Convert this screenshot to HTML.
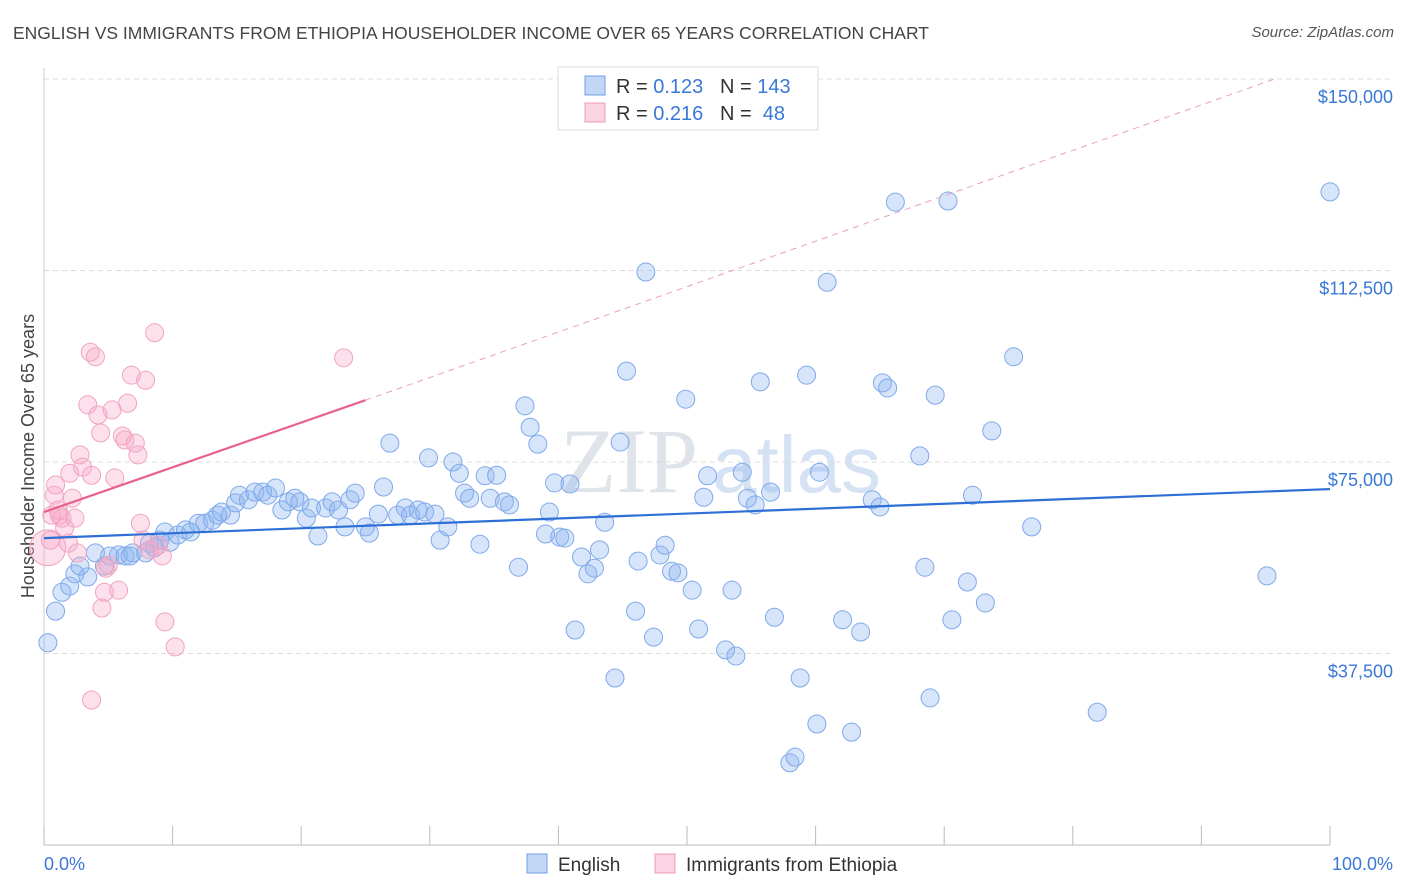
<!DOCTYPE html>
<html><head><meta charset="utf-8">
<style>
body{margin:0;background:#fff;font-family:"Liberation Sans",sans-serif;}
#wrap{position:relative;width:1406px;height:892px;overflow:hidden;}
.title{position:absolute;left:13px;top:23px;font-size:17.5px;color:#444;letter-spacing:0px;}
.source{position:absolute;right:12px;top:24px;font-size:15px;color:#555;font-style:italic;}
</style></head>
<body>
<div id="wrap">
<div class="title">ENGLISH VS IMMIGRANTS FROM ETHIOPIA HOUSEHOLDER INCOME OVER 65 YEARS CORRELATION CHART</div>
<div class="source">Source: ZipAtlas.com</div>
<svg id="chart" width="1406" height="892" style="position:absolute;left:0;top:0"></svg>
</div>
<script>
const englishX=[0.3,0.9,1.4,2.0,2.4,3.4,2.8,4.0,4.7,5.1,5.8,6.3,6.7,6.9,7.9,8.2,8.6,9.0,9.4,9.8,10.4,11.0,11.4,12.0,12.5,13.1,13.5,13.8,14.5,14.9,15.2,15.9,16.4,17.0,17.4,18.0,18.5,19.0,19.5,19.9,20.4,20.8,21.3,21.9,22.4,22.9,23.4,23.8,24.2,25.0,25.3,26.0,26.4,26.9,27.5,28.1,28.5,29.1,29.6,29.9,30.4,30.8,31.4,31.8,32.3,32.7,33.1,33.9,34.3,34.7,35.2,35.8,36.2,36.9,37.4,37.8,38.4,39.0,39.3,39.7,40.1,40.5,40.9,41.3,41.8,42.3,42.8,43.2,43.6,44.4,44.8,45.3,46.0,46.2,46.8,47.4,47.9,48.3,48.8,49.3,49.9,50.4,50.9,51.3,51.6,53.0,53.5,53.8,54.3,54.7,55.3,55.7,56.5,56.8,58.0,58.4,58.8,59.3,60.1,60.3,60.9,62.1,62.8,63.5,64.4,65.0,65.2,65.6,66.2,68.1,68.5,68.9,69.3,70.3,70.6,71.8,72.2,73.2,73.7,75.4,76.8,81.9,95.1,100];
const englishY=[39.6,45.8,49.5,50.7,53.1,52.5,54.6,57.2,54.6,56.6,56.8,56.6,56.6,57.2,57.2,59.1,58.2,59.7,61.3,59.3,60.7,61.7,61.3,63.0,63.0,63.6,64.6,65.2,64.6,67.0,68.5,67.6,69.1,69.1,68.5,69.9,65.6,67.2,67.9,67.2,64.0,66.0,60.5,66.0,67.2,65.6,62.3,67.6,68.9,62.3,61.1,64.8,70.1,78.7,64.6,66.0,64.6,65.6,65.2,75.8,64.8,59.7,62.3,75.0,72.8,68.9,67.9,58.9,72.3,67.9,72.4,67.2,66.6,54.4,86.0,81.8,78.5,60.9,65.2,70.9,60.3,60.1,70.7,42.1,56.4,53.1,54.2,57.8,63.2,32.7,78.9,92.8,45.8,55.6,112.2,40.7,56.8,58.7,53.6,53.3,87.3,49.9,42.3,68.1,72.3,38.2,49.9,37.0,73.0,67.9,66.6,90.7,69.1,44.6,16.1,17.2,32.7,92.0,23.7,73.0,110.2,44.1,22.1,41.7,67.6,66.2,90.5,89.5,125.9,76.2,54.4,28.8,88.1,126.1,44.1,51.5,68.5,47.4,81.1,95.6,62.3,26.0,52.7,127.9];
const ethX=[0.3,0.5,0.6,0.8,0.9,1.2,1.4,1.6,1.9,2.0,2.2,2.4,2.6,2.8,3.0,3.4,3.6,3.7,4.0,4.2,4.4,4.5,4.7,4.8,5.0,5.3,5.5,5.8,6.1,6.3,6.5,6.8,7.1,7.3,7.5,7.7,7.9,8.2,8.6,8.9,9.2,9.4,10.2,3.7,23.3,1.1];
const ethY=[58.2,59.7,64.6,68.5,70.5,64.6,64.0,62.1,59.1,72.8,67.9,64.0,57.2,76.4,74.0,86.2,96.5,72.4,95.6,84.2,80.7,46.4,49.5,54.2,54.8,85.2,71.9,49.9,80.1,79.3,86.5,92.0,78.7,76.4,63.0,59.7,91.0,57.8,100.3,58.7,56.6,43.7,38.8,28.4,95.4,65.6];
const yTicks=[37.5,75,112.5,150];
const yTickLabels=["$37,500","$75,000","$112,500","$150,000"];
const blueTrend=[[0,60.1],[100,69.7]];
const pinkTrend=[[0,65.2],[25,87.1]];
const pinkDash=[[25,87.1],[95.7,150]];

const L=44,R=1330,T=79,B=845;
const sx=v=>L+(R-L)*v/100;
const sy=v=>B-(B-T)*v/150;
const svg=document.getElementById('chart');
const NS='http://www.w3.org/2000/svg';
function mk(tag,attrs){const e=document.createElementNS(NS,tag);for(const k in attrs)e.setAttribute(k,attrs[k]);svg.appendChild(e);return e;}

let wm=mk('text',{x:560,y:492,'font-size':92,'font-family':'Liberation Serif, serif',fill:'#dfe3ea'});
wm.textContent='ZIP';


let wm2=mk('text',{x:712,y:492,'font-size':80,'font-family':'Liberation Sans, sans-serif',fill:'#d4e2f4'});
wm2.textContent='atlas';



yTicks.forEach((t,i)=>{
  const g=mk('line',{x1:L,x2:1393,y1:sy(t),y2:sy(t),stroke:'#dcdcdc','stroke-dasharray':'5,4','stroke-width':1});
  
  
  const tx=mk('text',{x:1393,y:sy(t)+24,'text-anchor':'end','font-size':18,fill:'#3a78d8'});
  tx.textContent=yTickLabels[i];
  
  
});
let ax=mk('line',{x1:L,x2:R,y1:B,y2:B,stroke:'#bbb'});


let ay=mk('line',{x1:L,x2:L,y1:68,y2:B,stroke:'#ccc'});


for(let i=0;i<=10;i++){
  const tk=mk('line',{x1:sx(i*10),x2:sx(i*10),y1:826,y2:B,stroke:'#bbb'});
  
  
}
let xl=mk('text',{x:44,y:870,'font-size':18,fill:'#3a78d8'});xl.textContent='0.0%';


let xr=mk('text',{x:1393,y:870,'font-size':18,fill:'#3a78d8','text-anchor':'end'});xr.textContent='100.0%';


let yt=mk('text',{x:34,y:456,'font-size':18,fill:'#444','text-anchor':'middle',transform:'rotate(-90 34 456)'});
yt.textContent='Householder Income Over 65 years';



englishX.forEach((x,i)=>{
  const c=mk('circle',{cx:sx(x),cy:sy(englishY[i]),r:9,fill:'rgba(140,180,240,0.35)',stroke:'#7fa9ea','stroke-width':1});
  
  
});
ethX.forEach((x,i)=>{
  const c=mk('circle',{cx:sx(x),cy:sy(ethY[i]),r:i===0?18:9,fill:'rgba(245,170,200,0.35)',stroke:'#f2a3c0','stroke-width':1});
  
  
});
let bt=mk('line',{x1:sx(blueTrend[0][0]),y1:sy(blueTrend[0][1]),x2:sx(blueTrend[1][0]),y2:sy(blueTrend[1][1]),stroke:'#2e6fd6','stroke-width':2.2});


let pt=mk('line',{x1:sx(pinkTrend[0][0]),y1:sy(pinkTrend[0][1]),x2:sx(pinkTrend[1][0]),y2:sy(pinkTrend[1][1]),stroke:'#e8608c','stroke-width':2.2});


let pd=mk('line',{x1:sx(pinkDash[0][0]),y1:sy(pinkDash[0][1]),x2:sx(pinkDash[1][0]),y2:sy(pinkDash[1][1]),stroke:'#eaa0b8','stroke-width':1,'stroke-dasharray':'6,5'});



let lb=mk('rect',{x:558,y:67,width:260,height:63,fill:'#fff',stroke:'#ddd'});


[[0,'0.123','143','rgba(120,165,235,0.45)','#6f9fe6'],[1,'0.216',' 48','rgba(245,160,190,0.45)','#f09ab8']].forEach(d=>{
  const y=76+d[0]*27;
  const s=mk('rect',{x:585,y:y,width:20,height:19,fill:d[3],stroke:d[4]});
  
  
  const t=mk('text',{x:616,y:y+17,'font-size':20,fill:'#333'});
  t.innerHTML='R = <tspan fill="#3a78d8">'+d[1]+'</tspan>   N = <tspan fill="#3a78d8">'+d[2]+'</tspan>';
  t.style.whiteSpace='pre';
  
  
});
[[527,'English','rgba(120,165,235,0.45)','#6f9fe6'],[655,'Immigrants from Ethiopia','rgba(245,160,190,0.45)','#f09ab8']].forEach(d=>{
  const s=mk('rect',{x:d[0],y:854,width:20,height:19,fill:d[2],stroke:d[3]});
  
  
  const t=mk('text',{x:d[0]+31,y:871,'font-size':19,fill:'#333'});
  t.textContent=d[1];
  
  
});
</script>
</body></html>
